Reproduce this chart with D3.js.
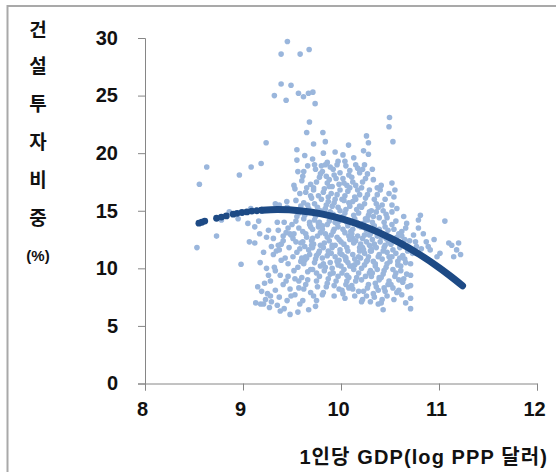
<!DOCTYPE html>
<html><head><meta charset="utf-8">
<script src="https://cdn.jsdelivr.net/npm/d3@7"></script>
<style>body{margin:0;background:#fff;}svg{display:block;}</style>
</head><body>
<svg id="c" width="556" height="472"></svg>
<script>
const xTicks = [8, 9, 10, 11, 12];
const yTicks = [0, 5, 10, 15, 20, 25, 30];
const yTitleChars = ["건", "설", "투", "자", "비", "중", "(%)"];
const xTitle = "1인당 GDP(log PPP 달러)";

// scatter: [log GDP per capita, construction investment share %] — outer points
const scatterPoints = [
[8.53,11.8],[8.555,17.3],[8.63,18.8],[8.73,12.8],[8.78,14.2],[8.86,14.9],
[8.963,18.1],[8.98,10.35],[8.95,14.3],
[9.065,12.3],[9.083,18.8],[9.05,13.9],[9.08,15.2],
[9.185,19.1],[9.175,10.5],[9.15,8.4],[9.13,7.0],[9.18,6.9],[9.16,14.1],[9.12,13.6],
[9.236,20.9],[9.22,8.7],[9.25,7.8],[9.27,6.6],[9.28,8.9],[9.21,6.9],[9.24,12.7],[9.26,13.3],[9.29,11.9],[9.23,7.3],[9.29,7.1],
[9.32,25.0],[9.389,28.6],[9.389,26.0],[9.33,8.1],[9.35,6.8],[9.37,7.5],[9.38,6.3],[9.31,12.6],[9.34,11.5],[9.36,13.3],[9.39,12.1],[9.32,10.1],[9.38,9.4],[9.35,14.0],[9.33,15.6],[9.37,15.5],
[9.453,29.7],[9.49,25.9],[9.44,24.6],[9.447,15.8],[9.42,6.5],[9.45,7.2],[9.48,6.0],[9.41,8.6],[9.46,9.3],[9.43,10.9],[9.47,11.8],[9.41,12.4],[9.44,13.1],[9.49,12.9],[9.42,14.0],[9.46,10.4],[9.48,8.2],[9.5,13.8],[9.45,15.3],
[9.583,28.6],[9.566,25.2],[9.55,20.3],[9.55,19.4],[9.56,18.4],[9.52,17.2],[9.58,16.5],[9.54,15.9],[9.57,13.5],[9.51,12.6],[9.55,11.4],[9.59,10.6],[9.52,9.8],[9.57,8.9],[9.53,7.7],[9.58,6.9],[9.56,6.2],[9.51,11.0],[9.59,12.2],[9.54,14.1],[9.6,17.6],[9.57,14.8],
[9.675,29.0],[9.617,24.9],[9.668,25.2],[9.678,22.7],[9.65,21.8],[9.63,19.8],[9.66,18.9],[9.61,18.0],[9.69,17.3],[9.64,16.6],[9.62,15.7],[9.67,15.2],[9.7,16.1],[9.61,13.2],[9.65,12.7],[9.69,13.6],[9.63,11.9],[9.68,11.2],[9.62,10.4],[9.66,9.7],[9.64,8.6],[9.69,7.9],[9.61,7.2],[9.67,6.4],[9.62,14.3],[9.68,14.0],[9.65,10.9],[9.6,9.2],[9.7,12.4],
[9.713,25.3],[9.736,24.3],[9.72,20.8],[9.75,9.6],[9.76,8.4],[9.75,7.2],[9.74,6.7],[9.71,19.5],[9.74,18.6],[9.78,17.9],[9.72,17.0],[9.77,16.3],[9.73,15.6],[9.79,15.0],[9.71,13.4],[9.76,12.8],[9.72,12.1],[9.78,11.5],[9.74,10.8],[9.79,10.2],[9.71,9.9],[9.77,13.9],[9.8,18.9],[9.73,14.2],[9.79,12.0],[9.75,11.1],
[9.815,21.8],[9.84,21.0],[9.82,20.0],[9.86,19.2],[9.81,18.4],[9.88,17.7],[9.83,16.9],[9.87,16.2],[9.85,15.5],[9.89,14.9],[9.81,13.7],[9.84,13.0],[9.88,12.4],[9.82,11.8],[9.86,11.1],[9.89,10.5],[9.83,9.8],[9.87,9.1],[9.85,8.4],[9.81,7.7],[9.88,14.1],[9.83,15.0],[9.86,17.4],[9.9,12.9],[9.82,10.4],[9.9,16.5],[9.84,19.0],
[9.97,19.3],[9.92,18.6],[9.95,17.8],[9.91,17.1],[9.99,16.8],[9.94,16.0],[9.97,15.3],[9.92,14.7],[9.98,14.1],[9.93,13.4],[9.96,12.7],[9.91,12.0],[9.99,11.6],[9.94,11.0],[9.97,10.3],[9.92,9.6],[9.95,8.9],[9.98,8.2],[9.93,7.6],[9.96,13.9],[9.91,15.4],[10.0,12.3],[9.94,20.1],[9.98,10.7],[9.99,18.3],
[10.077,20.7],[10.02,19.85],[10.01,8.1],[10.04,7.4],[10.05,18.9],[10.08,18.1],[10.03,17.4],[10.07,16.7],[10.01,16.0],[10.09,15.4],[10.04,14.8],[10.06,14.0],[10.02,13.4],[10.08,12.8],[10.03,12.1],[10.07,11.5],[10.05,10.9],[10.09,10.2],[10.01,9.6],[10.06,8.9],[10.08,8.3],[10.03,15.9],[10.1,13.2],[10.04,11.0],[10.09,17.0],[10.06,9.4],[10.0,14.4],
[10.13,19.6],[10.17,18.7],[10.11,17.9],[10.15,17.2],[10.19,16.4],[10.12,15.8],[10.16,15.1],[10.14,14.3],[10.18,13.7],[10.11,13.0],[10.15,12.4],[10.19,11.8],[10.12,11.2],[10.17,10.5],[10.13,9.9],[10.16,9.2],[10.11,8.5],[10.18,8.0],[10.14,7.6],[10.2,10.9],[10.12,12.6],[10.18,14.8],[10.15,16.0],[10.2,12.1],[10.14,10.3],
[10.26,21.5],[10.28,20.9],[10.23,20.2],[10.28,19.9],[10.21,7.1],[10.30,7.1],[10.24,19.0],[10.27,18.2],[10.22,17.5],[10.29,16.8],[10.25,16.1],[10.21,15.3],[10.28,14.6],[10.23,13.9],[10.26,13.3],[10.22,12.6],[10.29,12.0],[10.24,11.3],[10.27,10.7],[10.21,10.0],[10.25,9.3],[10.28,8.6],[10.23,8.0],[10.26,7.6],[10.3,11.5],[10.22,11.8],[10.27,14.2],[10.24,12.9],[10.3,9.8],[10.21,17.0],
[10.37,16.4],[10.40,16.8],[10.33,17.7],[10.36,15.6],[10.31,15.0],[10.39,14.4],[10.34,13.7],[10.38,13.1],[10.32,12.5],[10.36,11.8],[10.39,11.2],[10.33,10.6],[10.37,9.9],[10.31,9.3],[10.35,8.7],[10.38,8.1],[10.34,7.5],[10.32,18.6],[10.4,12.3],[10.35,10.2],[10.39,9.2],[10.33,14.5],[10.38,6.9],
[10.495,23.1],[10.49,22.3],[10.49,16.5],[10.43,6.4],[10.42,15.5],[10.46,14.7],[10.44,14.0],[10.48,13.3],[10.41,12.7],[10.45,12.0],[10.47,11.4],[10.42,10.8],[10.46,10.1],[10.43,9.5],[10.49,8.9],[10.44,8.3],[10.47,7.6],[10.41,7.0],[10.48,12.4],[10.45,13.6],[10.43,11.5],[10.5,10.6],
[10.53,21.0],[10.52,17.4],[10.55,16.8],[10.52,15.5],[10.52,14.9],[10.59,9.0],[10.59,8.1],[10.54,13.4],[10.57,12.7],[10.51,12.1],[10.56,11.3],[10.58,10.6],[10.53,9.9],[10.55,9.3],[10.51,8.6],[10.57,7.9],[10.54,7.3],[10.56,14.1],[10.6,11.8],[10.52,11.0],
[10.67,13.9],[10.62,13.2],[10.65,12.5],[10.69,11.8],[10.63,11.1],[10.66,10.5],[10.61,9.8],[10.64,9.1],[10.68,8.4],[10.62,7.7],[10.66,7.0],[10.7,12.4],[10.64,12.0],
[10.71,10.4],[10.71,9.4],[10.71,8.5],[10.71,7.4],[10.71,6.5],[10.74,12.9],[10.77,11.9],[10.73,11.3],[10.79,13.5],[10.76,12.3],
[10.81,14.6],[10.79,14.2],[10.84,13.0],[10.87,12.3],[10.82,11.7],[10.89,11.9],
[10.91,11.6],[10.95,12.5],[10.98,11.0],
[11.01,11.3],[11.06,14.1],[11.10,12.2],[11.20,12.2],[11.22,11.2],[11.15,11.0],[11.13,12.0],[11.18,11.6]
];

// scatter: dense core of the cloud
const scatterCore = [
[9.12,12.2],[9.17,13.0],[9.21,11.4],[9.26,9.4],[9.19,8.0],[9.28,7.6],[9.24,10.0],
[9.31,11.2],[9.36,12.0],[9.41,12.8],[9.46,13.5],[9.33,9.8],[9.39,10.7],[9.44,8.9],[9.49,7.6],[9.37,11.6],[9.48,13.0],
[9.53,9.1],[9.56,10.1],[9.58,11.7],[9.52,13.0],[9.55,14.5],[9.59,15.4],[9.53,16.9],[9.57,8.3],[9.54,12.3],[9.6,10.9],
[9.62,8.2],[9.66,9.0],[9.69,9.9],[9.63,10.7],[9.67,11.6],[9.61,12.3],[9.64,13.0],[9.68,13.8],[9.63,14.6],[9.66,15.5],[9.69,16.3],[9.65,17.0],[9.62,18.4],[9.7,12.0],[9.64,11.0],
[9.72,7.6],[9.75,8.9],[9.78,9.3],[9.73,10.5],[9.77,11.3],[9.71,12.6],[9.79,13.1],[9.74,14.5],[9.76,15.3],[9.8,16.0],[9.72,16.8],[9.75,17.5],[9.79,18.2],[9.73,19.0],[9.78,14.0],[9.71,11.8],[9.77,13.6],
[9.82,7.9],[9.86,8.7],[9.89,9.5],[9.84,10.1],[9.81,10.9],[9.87,11.5],[9.83,12.2],[9.86,12.7],[9.81,13.4],[9.89,14.4],[9.84,15.2],[9.87,15.8],[9.82,16.6],[9.88,17.1],[9.85,18.0],[9.89,18.8],[9.86,13.8],[9.9,11.3],[9.83,14.7],
[9.93,8.5],[9.97,9.3],[9.91,10.0],[9.96,10.6],[9.99,11.3],[9.94,12.0],[9.98,12.5],[9.92,13.2],[9.97,13.6],[9.95,14.4],[9.99,15.0],[9.93,15.7],[9.96,16.4],[9.98,17.3],[9.93,18.1],[9.96,19.0],[9.91,11.8],[9.94,14.0],[10.0,10.2],
[10.02,7.8],[10.05,8.6],[10.08,9.2],[10.03,9.9],[10.07,10.5],[10.01,11.2],[10.06,11.8],[10.09,12.5],[10.04,13.1],[10.07,13.7],[10.02,14.5],[10.05,15.1],[10.08,15.7],[10.04,16.3],[10.06,17.2],[10.02,17.8],[10.09,18.5],[10.04,19.3],[10.1,12.9],[10.05,10.7],
[10.12,8.2],[10.15,8.9],[10.18,9.6],[10.11,10.2],[10.14,10.8],[10.19,11.5],[10.13,12.2],[10.17,12.8],[10.12,13.4],[10.16,14.0],[10.13,14.6],[10.19,15.4],[10.14,16.2],[10.17,16.8],[10.12,17.5],[10.19,18.3],[10.15,19.0],[10.18,11.0],[10.2,13.6],
[10.22,7.3],[10.27,8.3],[10.21,9.0],[10.29,9.6],[10.24,10.3],[10.28,11.0],[10.23,11.6],[10.26,12.3],[10.29,12.9],[10.22,13.6],[10.25,14.3],[10.29,14.9],[10.24,15.6],[10.27,16.4],[10.25,17.8],[10.22,18.6],[10.26,10.6],[10.3,13.0],
[10.33,7.8],[10.36,8.4],[10.39,9.0],[10.32,9.6],[10.35,10.4],[10.38,11.0],[10.31,11.5],[10.34,12.1],[10.37,12.8],[10.39,13.4],[10.32,14.0],[10.36,14.9],[10.38,15.3],[10.34,16.0],[10.37,17.0],[10.31,11.7],[10.4,13.0],
[10.42,7.3],[10.45,8.0],[10.48,8.6],[10.41,9.2],[10.44,9.8],[10.47,10.4],[10.49,11.0],[10.44,11.8],[10.46,12.6],[10.42,13.0],[10.47,14.4],[10.43,15.0],[10.45,16.0],[10.41,17.2],[10.5,12.2],
[10.53,8.3],[10.56,9.6],[10.58,10.3],[10.53,11.6],[10.55,12.4],[10.59,13.0],[10.52,13.8],[10.57,15.2],[10.54,16.2],[10.6,10.9],
[10.63,8.8],[10.67,9.5],[10.61,10.2],[10.65,10.8],[10.68,11.5],[10.62,12.8],[10.66,13.5],[10.64,14.5]
];

// fitted curve: sparse dots at the low-income end, dense band afterwards
const fitDots = [[8.55,13.92],[8.58,14.0],[8.61,14.1],[8.73,14.35],[8.78,14.45],[8.83,14.55],[8.9,14.7],[8.94,14.78],[8.99,14.85],[9.04,14.9],[9.09,14.97],[9.14,15.0],[9.19,15.05]];
const fitLine = [[9.19,15.05],[9.35,15.1],[9.6,14.98],[9.8,14.73],[10.0,14.32],[10.2,13.76],[10.4,13.06],[10.6,12.21],[10.8,11.21],[11.0,10.06],[11.1,9.43],[11.24,8.49]];

const svg = d3.select("#c");
const x = d3.scaleLinear().domain([8, 12]).range([145, 537]);
const y = d3.scaleLinear().domain([0, 30]).range([383.5, 38]);

// frame
svg.append("rect").attr("x", 7.5).attr("y", 6).attr("width", 560).attr("height", 480)
  .attr("fill", "none").attr("stroke", "#a9a9a9").attr("stroke-width", 2);

const font = "'Liberation Sans', Arial, 'Noto Sans CJK KR', sans-serif";

// axes
const gx = svg.append("g").attr("transform", "translate(0,383.5)")
  .call(d3.axisBottom(x).tickValues(xTicks).tickSize(7).tickPadding(11).tickFormat(d3.format("d")));
const gy = svg.append("g").attr("transform", "translate(145,0)")
  .call(d3.axisLeft(y).tickValues(yTicks).tickSize(7).tickPadding(20).tickFormat(d3.format("d")));
[gx, gy].forEach(g => {
  g.select(".domain").attr("stroke", "#868686");
  g.selectAll(".tick line").attr("stroke", "#868686");
  g.selectAll(".tick text").attr("fill", "#111").style("font-family", font)
    .style("font-size", "20px").style("font-weight", "bold");
});
gx.selectAll(".tick text").attr("dx", "-3px");

// scatter
svg.append("g").selectAll("circle").data(scatterPoints.concat(scatterCore)).join("circle")
  .attr("cx", d => x(d[0])).attr("cy", d => y(d[1])).attr("r", 2.8)
  .attr("fill", "#9ab6dc");

// fitted curve
const fitColor = "#1d4a85";
svg.append("path").datum(fitLine)
  .attr("d", d3.line().x(d => x(d[0])).y(d => y(d[1])).curve(d3.curveMonotoneX))
  .attr("fill", "none").attr("stroke", fitColor).attr("stroke-width", 7).attr("stroke-linecap", "round");
svg.append("g").selectAll("circle").data(fitDots).join("circle")
  .attr("cx", d => x(d[0])).attr("cy", d => y(d[1])).attr("r", 3.4)
  .attr("fill", fitColor);

// y title (stacked)
const yPos = [30, 66, 104, 142, 180, 218, 256];
svg.append("g").selectAll("text").data(yTitleChars).join("text")
  .attr("x", 38).attr("y", (d, i) => yPos[i]).attr("dy", "0.36em")
  .attr("text-anchor", "middle")
  .style("font-family", font).style("font-weight", "bold")
  .style("font-size", (d, i) => i === 6 ? "15px" : "19px")
  .attr("fill", "#111").text(d => d);

// x title
svg.append("text").attr("x", 548).attr("y", 457).attr("dy", "0.36em")
  .attr("text-anchor", "end").style("font-family", font).style("font-weight", "bold")
  .style("font-size", "20px").style("letter-spacing", "1.1px").attr("fill", "#111").text(xTitle);
</script>
</body></html>
